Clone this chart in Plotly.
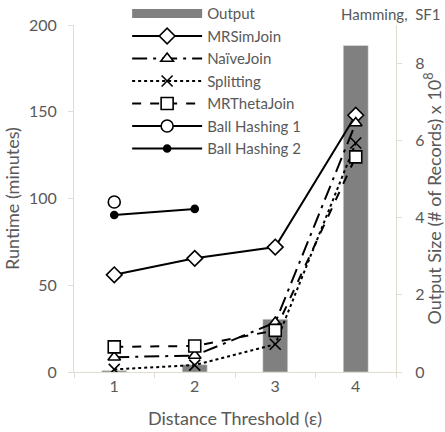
import plotly.graph_objects as go

categories = ["1", "2", "3", "4"]
output_size = [0.04, 0.19, 1.37, 8.47]
mrsimjoin = [56, 65.5, 72, 148]
naivejoin = [8.5, 9.5, 28.5, 143.5]
splitting = [1.5, 4, 16, 132]
mrthetajoin = [14.5, 15, 24, 124]
ball_hashing_1 = [98, None, None, None]
ball_hashing_2 = [90.5, 94, None, None]

FONT = "Lato"
GREY = "#595959"
AXIS = "#e0ddd0"

fig = go.Figure()

# bars on primary y (drawn behind), axis placed on the right
fig.add_trace(go.Bar(x=categories, y=output_size, marker_color="#808080",
                     width=0.31, showlegend=False, yaxis="y"))
# legend entry for Output
fig.add_trace(go.Scatter(x=[None], y=[None], mode="lines", name="Output",
                         line=dict(color="#808080", width=9), yaxis="y2"))

def line_trace(name, ys, dash, symbol, size, fill="white", lw=2):
    return go.Scatter(x=categories, y=ys, name=name, mode="lines+markers",
                      yaxis="y2", connectgaps=False,
                      line=dict(color="black", width=lw, dash=dash),
                      marker=dict(symbol=symbol, size=size, color=fill,
                                  line=dict(color="black", width=1.6)))

fig.add_trace(line_trace("MRSimJoin", mrsimjoin, "solid", "diamond", 12))
fig.add_trace(line_trace("NaïveJoin", naivejoin, "longdashdot", "triangle-up", 11))
fig.add_trace(line_trace("Splitting", splitting, "dot", "x-thin", 11))
fig.add_trace(line_trace("MRThetaJoin", mrthetajoin, "dash", "square", 12))
fig.add_trace(line_trace("Ball Hashing 1", ball_hashing_1, "solid", "circle", 12))
fig.add_trace(line_trace("Ball Hashing 2", ball_hashing_2, "solid", "circle", 7, fill="black"))

fig.update_layout(
    width=445, height=432,
    margin=dict(l=74, r=49, t=25, b=60, autoexpand=False),
    paper_bgcolor="white", plot_bgcolor="white",
    font=dict(family=FONT, size=15, color=GREY),
    bargap=0.69,
    xaxis=dict(type="category", tickson="boundaries", ticks="outside",
               ticklen=5, tickcolor=AXIS, showline=True, linecolor=AXIS,
               showgrid=False, range=[-0.5, 3.5], automargin=False,
               title=dict(text="Distance Threshold (ε)", standoff=18),
               tickfont=dict(size=16)),
    yaxis=dict(side="right", range=[0, 9], tickvals=[0, 2, 4, 6, 8],
               showgrid=False, zeroline=False, showline=True, linecolor=AXIS,
               ticks="outside", ticklen=5, tickcolor=AXIS, automargin=False,
               tickfont=dict(size=16), ticklabelstandoff=10,
               title=dict(text="Output Size (# of Records) x 10<sup>8</sup>", standoff=4)),
    yaxis2=dict(overlaying="y", side="left", range=[0, 200],
                tickvals=[0, 50, 100, 150, 200], showgrid=False, zeroline=False,
                showline=True, linecolor=AXIS, ticks="outside", ticklen=5,
                tickcolor=AXIS, automargin=False, tickfont=dict(size=16),
                ticklabelstandoff=8,
                title=dict(text="Runtime (minutes)", standoff=4)),
    legend=dict(x=0.165, y=1.08, xanchor="left", yanchor="top",
                bgcolor="rgba(0,0,0,0)", itemwidth=70,
                font=dict(size=15, color=GREY), tracegroupgap=0),
    annotations=[dict(text="Hamming,  SF1", xref="paper", yref="paper",
                      x=1.146, y=1.0, xanchor="right", yanchor="bottom",
                      showarrow=False, font=dict(size=15, color=GREY))],
)

fig.write_html("out.html", config={"displayModeBar": False},
               post_script="document.body.style.margin='0';"
                           "document.body.style.overflow='hidden';")
